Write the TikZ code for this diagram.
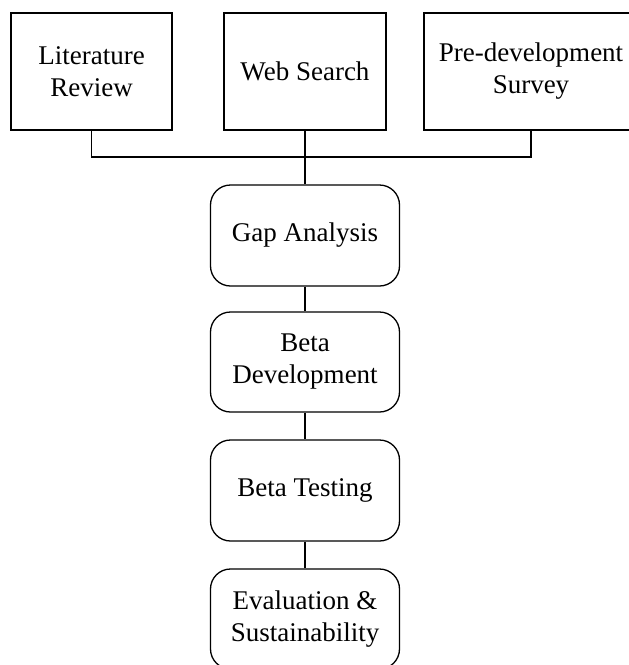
\documentclass[tikz,border=0pt]{standalone}
\usepackage{fontspec}
\setmainfont{Liberation Serif}
\begin{document}
\begin{tikzpicture}[x=1pt,y=-1pt]
\tikzset{
  sqbox/.style={draw, line width=1.3pt, minimum height=117pt, align=center,
    font=\fontsize{27}{32}\selectfont, inner sep=0pt},
  rbox/.style={sqbox, rounded corners=20pt, minimum width=189pt, minimum height=101pt},
  link/.style={line width=1.3pt}
}
\clip (0,0) rectangle (629,665);
\useasboundingbox (0,0) rectangle (629,665);
\node[sqbox, minimum width=161pt] (lit) at (91.5,71.5) {Literature\\Review};
\node[sqbox, minimum width=162pt] (web) at (305,71.5) {Web Search};
\node[sqbox, minimum width=214pt] (pre) at (531,71.5) {Pre-development\\Survey};
\node[rbox] (gap) at (305,235.5) {Gap Analysis};
\node[rbox, minimum height=100pt] (dev) at (305,362) {Beta\\Development};
\node[rbox] (test) at (305,490.5) {Beta Testing};
\node[rbox, minimum height=100pt] (eval) at (305,619) {Evaluation \&\\Sustainability};
\coordinate (bus) at (305,157);
\draw[link] (lit.south) |- (bus) -| (pre.south);
\draw[link] (web.south) -- (gap.north);
\draw[link] (gap.south) -- (dev.north);
\draw[link] (dev.south) -- (test.north);
\draw[link] (test.south) -- (eval.north);
\end{tikzpicture}
\end{document}
